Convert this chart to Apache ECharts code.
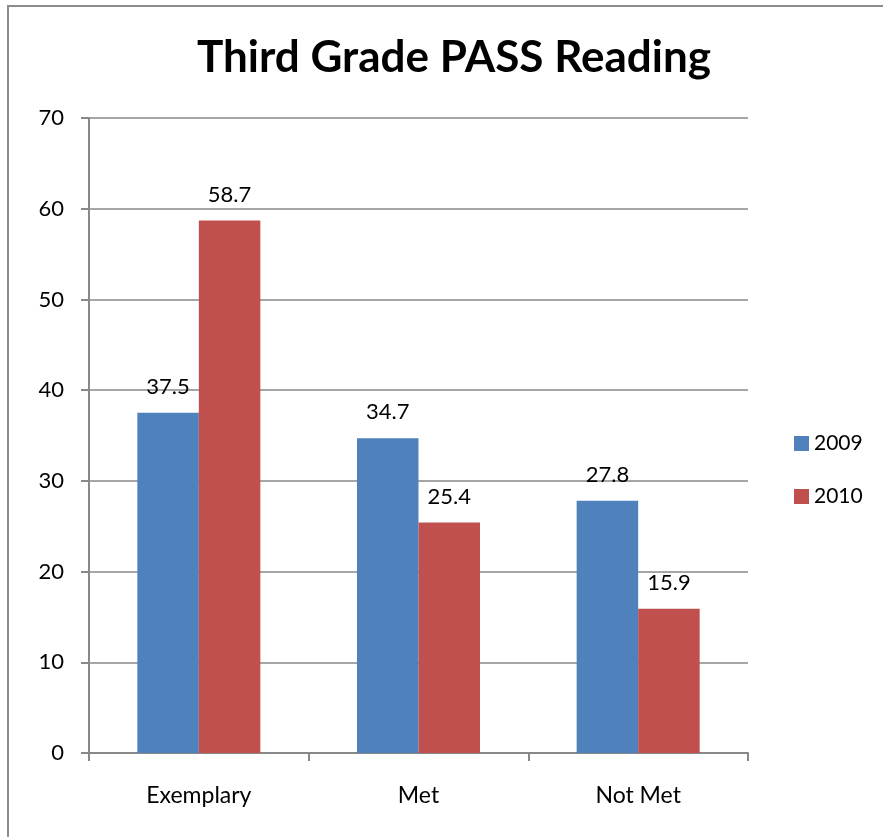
<!DOCTYPE html>
<html>
<head>
<meta charset="utf-8">
<script src="https://cdn.jsdelivr.net/npm/echarts@6/dist/echarts.min.js"></script>
<style>
  html, body { margin: 0; padding: 0; background: #fff; }
  #chart { width: 883px; height: 837px; }
</style>
</head>
<body>
<div id="chart"></div>
<script>
var categories = ['Exemplary', 'Met', 'Not Met'];
var years = ['2009', '2010'];
var values2009 = [37.5, 34.7, 27.8];
var values2010 = [58.7, 25.4, 15.9];

var chart = echarts.init(document.getElementById('chart'));
var font = 'Lato';

var option = {
    backgroundColor: '#fff',
    animation: false,
    title: {
        text: 'Third Grade PASS Reading',
        left: 449,
        textAlign: 'center',
        top: 31,
        textStyle: { fontFamily: font, fontWeight: 'bold', fontSize: 44, color: '#000' }
    },
    legend: {
        data: years,
        orient: 'vertical',
        left: 789,
        top: 428,
        itemWidth: 15,
        itemHeight: 15,
        itemGap: 32,
        icon: 'rect',
        textStyle: { fontFamily: font, fontSize: 21, color: '#000' }
    },
    grid: { left: 89, top: 118, width: 659, height: 635 },
    xAxis: {
        type: 'category',
        data: categories,
        axisLine: { lineStyle: { color: '#888', width: 2 } },
        axisTick: { show: true, length: 8, lineStyle: { color: '#888', width: 2 } },
        axisLabel: { fontFamily: font, fontSize: 23, color: '#000', margin: 31 }
    },
    yAxis: {
        type: 'value',
        min: 0,
        max: 70,
        interval: 10,
        axisLine: { show: true, lineStyle: { color: '#888', width: 2 } },
        axisTick: { show: true, length: 8, lineStyle: { color: '#888', width: 2 } },
        splitLine: { lineStyle: { color: '#888', width: 1.5 } },
        axisLabel: { fontFamily: font, fontSize: 22, color: '#000', margin: 25 }
    },
    series: [
        {
            name: years[0],
            type: 'bar',
            data: values2009,
            barGap: '0%',
            barCategoryGap: '44%',
            itemStyle: { color: '#4F81BD' },
            label: { show: true, position: 'top', distance: 15, fontFamily: font, fontSize: 22, color: '#000' }
        },
        {
            name: years[1],
            type: 'bar',
            data: values2010,
            barGap: '0%',
            barCategoryGap: '44%',
            itemStyle: { color: '#C0504D' },
            label: { show: true, position: 'top', distance: 15, fontFamily: font, fontSize: 22, color: '#000' }
        }
    ],
    graphic: [
        {
            type: 'rect',
            shape: { x: 8, y: 6, width: 900, height: 900 },
            style: { fill: null, stroke: '#8c8c8c', lineWidth: 2 },
            silent: true
        }
    ]
};

chart.setOption(option);
</script>
</body>
</html>
